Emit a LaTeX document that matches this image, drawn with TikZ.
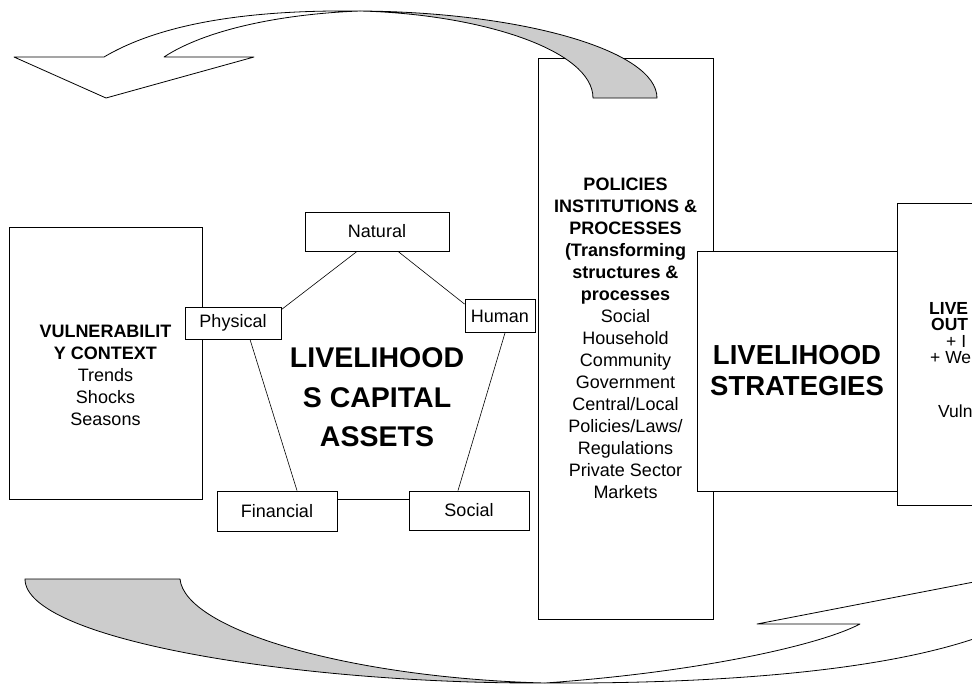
\documentclass[tikz,border=0pt]{standalone}
\usepackage{fontspec}
\setmainfont{Liberation Sans}

\tikzset{
  panel/.style = {draw, fill=white, line width=0.8pt, inner sep=0pt, align=center},
  asset/.style = {draw, fill=white, line width=0.8pt, inner sep=0pt,
                  font=\fontsize{18}{22}\selectfont},
  link/.style = {line width=0.6pt},
  ribbon/.style = {draw, line width=0.8pt, line join=round}
}

\begin{document}
\begin{tikzpicture}[x=1pt, y=-1pt]
  \useasboundingbox (0,0) rectangle (972,686);
  \clip (0,0) rectangle (972,686);

  % the four columns of the framework
  \node[panel, minimum width=193, minimum height=272] (vuln) at (105.5,363) {};
  \node[align=center, font=\fontsize{18}{22}\selectfont] (vulntext) at (105.5,375)
    {\textbf{VULNERABILIT}\\\textbf{Y CONTEXT}\\Trends\\Shocks\\Seasons};
  \node[panel, minimum width=175, minimum height=561, font=\fontsize{18}{22}\selectfont]
    (policies) at (625.5,338.5)
    {\textbf{POLICIES}\\\textbf{INSTITUTIONS \&}\\\textbf{PROCESSES}\\\textbf{(Transforming}\\
     \textbf{structures \&}\\\textbf{processes}\\Social\\Household\\Community\\Government\\
     Central/Local\\Policies/Laws/\\Regulations\\Private Sector\\Markets};
  \node[panel, minimum width=200, minimum height=240, font=\fontsize{27.5}{31}\selectfont\bfseries]
    (strategies) at (797,371) {LIVELIHOOD\\STRATEGIES};
  \node[panel, minimum width=160, minimum height=302] (outcomes) at (977,354) {};
  \node[anchor=north west, align=left, inner sep=0pt, font=\fontsize{17.5}{16.5}\selectfont]
    (outtext) at (929,302)
    {\textbf{LIVE}\\\hspace*{2pt}\textbf{OUT}\\\hspace*{17pt}+ I\\\hspace*{1pt}+ We\\[37pt]\hspace*{9pt}Vuln};

  % capital assets pentagon
  \node[align=center, inner sep=0pt, font=\fontsize{28.5}{39.5}\selectfont\bfseries] (assets)
    at (377,397.5) {LIVELIHOOD\\S CAPITAL\\ASSETS};
  \node[asset, minimum width=144, minimum height=39] (natural) at (377,231.5) {Natural};
  \node[asset, minimum width=96, minimum height=32] (physical) at (233,323) {Physical};
  \node[asset, minimum width=70, minimum height=33] (human) at (500,316) {Human};
  \node[asset, minimum width=120, minimum height=40] (financial) at (277,511) {Financial};
  \node[asset, minimum width=120, minimum height=39] (social) at (469,510.5) {Social};

  \draw[link] ([xshift=-20pt]natural.south) -- ([yshift=-3pt]physical.north east);
  \draw[link] ([xshift=21pt]natural.south) -- ([yshift=-5pt]human.north west);
  \draw[link] ([xshift=17pt]physical.south) -- ([xshift=20pt]financial.north);
  \draw[link] ([xshift=5pt]human.south) -- ([xshift=-11pt]social.north);
  \draw[link] ([yshift=12pt]financial.east) -- ([yshift=11.5pt]social.west);

  % twisted arrow on top
  \draw[ribbon, fill=black!20] (360,11) .. controls (520,12) and (657,50) .. (657,98)
    -- (593,98) .. controls (593,50) and (480,14) .. (360,11) -- cycle;
  \draw[ribbon, fill=white] (104,57) -- (14,57) -- (106,98) -- (254,57) -- (164,57)
    .. controls (205,30) and (280,14) .. (360,11)
    .. controls (270,10) and (170,18) .. (104,57) -- cycle;

  % twisted arrow at the bottom
  \draw[ribbon, fill=black!20] (25,579) -- (180,579)
    .. controls (185,630) and (350,678) .. (545,683)
    .. controls (300,684) and (25,640) .. (25,579) -- cycle;
  \draw[ribbon, fill=white] (545,683) .. controls (700,672) and (820,645) .. (860,624)
    -- (757,624) -- (1010,575) -- (1010,625) -- (990,633)
    .. controls (900,668) and (740,684) .. (545,683) -- cycle;
\end{tikzpicture}
\end{document}
